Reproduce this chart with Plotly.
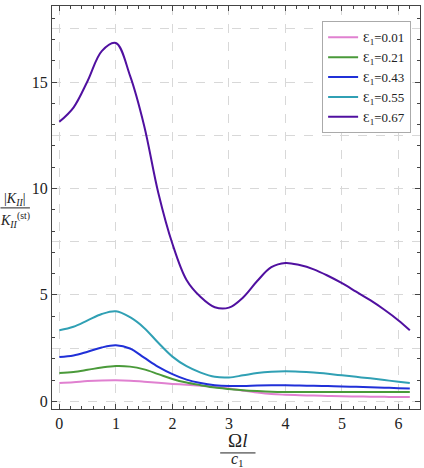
import plotly.graph_objects as go

x_vals = [0, 0.25, 0.5, 0.75, 1.0, 1.25, 1.5, 1.75, 2.0, 2.25, 2.5, 2.75, 3.0, 3.25, 3.5, 3.75, 4.0,
          4.25, 4.5, 4.75, 5.0, 5.25, 5.5, 5.75, 6.0, 6.2]

eps_001 = [0.86, 0.90, 0.95, 0.98, 0.99, 0.97, 0.92, 0.87, 0.82, 0.78, 0.73, 0.67, 0.60, 0.50, 0.41, 0.34, 0.31,
           0.29, 0.27, 0.255, 0.24, 0.23, 0.22, 0.21, 0.205, 0.20]
eps_021 = [1.33, 1.38, 1.48, 1.59, 1.66, 1.63, 1.50, 1.28, 1.05, 0.88, 0.76, 0.65, 0.58, 0.52, 0.48, 0.45, 0.44,
           0.44, 0.44, 0.44, 0.44, 0.44, 0.44, 0.44, 0.44, 0.44]
eps_043 = [2.08, 2.15, 2.33, 2.53, 2.63, 2.48, 2.05, 1.62, 1.28, 1.02, 0.86, 0.76, 0.72, 0.72, 0.74, 0.75, 0.75,
           0.74, 0.73, 0.715, 0.70, 0.68, 0.66, 0.64, 0.62, 0.60]
eps_055 = [3.34, 3.50, 3.80, 4.10, 4.23, 3.95, 3.45, 2.75, 2.10, 1.65, 1.35, 1.15, 1.12, 1.22, 1.33, 1.39, 1.41,
           1.39, 1.35, 1.29, 1.22, 1.15, 1.08, 1.00, 0.92, 0.86]
eps_067 = [13.13, 13.80, 15.05, 16.45, 16.83, 15.30, 12.95, 9.80, 7.40, 5.70, 4.90, 4.42, 4.40, 4.88, 5.65, 6.30, 6.50,
           6.40, 6.20, 5.90, 5.55, 5.15, 4.75, 4.30, 3.80, 3.34]

labels = ["Ɛ<sub>1</sub>=0.01", "Ɛ<sub>1</sub>=0.21", "Ɛ<sub>1</sub>=0.43", "Ɛ<sub>1</sub>=0.55", "Ɛ<sub>1</sub>=0.67"]
series = [eps_001, eps_021, eps_043, eps_055, eps_067]
colors = ["#e080d0", "#4a9a3a", "#2030d8", "#30a0b4", "#5010a0"]

FONT = "Liberation Serif"

fig = go.Figure()
for lab, ys, c in zip(labels, series, colors):
    fig.add_trace(go.Scatter(x=x_vals, y=ys, mode="lines", name=lab,
                             line=dict(color=c, width=2, shape="spline", smoothing=1.0)))

# invisible trace for minor-tick overlay axis
fig.add_trace(go.Scatter(x=[0], y=[0], yaxis="y2", xaxis="x2", mode="markers",
                         marker=dict(opacity=0), showlegend=False, hoverinfo="skip"))

xr = [-0.13, 6.38]
yr = [-0.36, 18.57]

fig.update_layout(
    width=424, height=468,
    margin=dict(l=52, r=4, t=6, b=59),
    paper_bgcolor="white", plot_bgcolor="white",
    font=dict(family=FONT, color="#222", size=16),
    showlegend=True,
    legend=dict(x=0.734, y=0.962, xanchor="left", yanchor="top",
                bordercolor="#aaa", borderwidth=1, bgcolor="white",
                font=dict(family=FONT, size=13, color="#222"),
                itemwidth=30, tracegroupgap=0),
    xaxis=dict(range=xr, tickvals=[0, 1, 2, 3, 4, 5, 6], ticks="inside", ticklen=5,
               tickcolor="#444", showline=True, linecolor="#444", linewidth=1, mirror="ticks",
               showgrid=True, gridcolor="#d8d8d8", griddash="dash", gridwidth=1,
               zeroline=False, tickfont=dict(family=FONT, size=16),
               minor=dict(dtick=0.2, tick0=0, ticks="inside", ticklen=3, tickcolor="#444", showgrid=False)),
    yaxis=dict(range=yr, tickvals=[0, 5, 10, 15], ticks="inside", ticklen=5,
               tickcolor="#444", showline=True, linecolor="#444", linewidth=1, mirror="ticks",
               showgrid=True, gridcolor="#d8d8d8", griddash="dash", gridwidth=1,
               zeroline=False, tickfont=dict(family=FONT, size=16),
               minor=dict(tickvals=[2.5, 7.5, 12.5, 17.5], ticks="", showgrid=True,
                          gridcolor="#d8d8d8", griddash="dash", gridwidth=1)),
    xaxis2=dict(range=xr, overlaying="x", showticklabels=False, ticks="", showgrid=False,
                zeroline=False, showline=False),
    yaxis2=dict(range=yr, overlaying="y", dtick=1, tick0=0, ticks="inside", ticklen=3,
                tickcolor="#444", showticklabels=False, showgrid=False, zeroline=False,
                showline=True, linecolor="#444", mirror="ticks"),
)

# axis titles as stacked fractions
fig.add_annotation(xref="paper", yref="paper", x=-0.100, y=0.520, text="|<i>K</i><sub><i>II</i></sub>|",
                   showarrow=False, font=dict(family=FONT, size=14, color="#222"), xanchor="center", yanchor="middle")
fig.add_annotation(xref="paper", yref="paper", x=-0.100, y=0.468, text="<i>K</i><sub><i>II</i></sub><sup>(st)</sup>",
                   showarrow=False, font=dict(family=FONT, size=14, color="#222"), xanchor="center", yanchor="middle")
fig.add_shape(type="line", xref="paper", yref="paper", x0=-0.140, x1=-0.060, y0=0.499, y1=0.499,
              line=dict(color="#222", width=1))

fig.add_annotation(xref="paper", yref="paper", x=0.503, y=-0.078, text="Ω<i>l</i>",
                   showarrow=False, font=dict(family=FONT, size=19, color="#222"), xanchor="center", yanchor="middle")
fig.add_annotation(xref="paper", yref="paper", x=0.503, y=-0.125, text="<i>c</i><sub>1</sub>",
                   showarrow=False, font=dict(family=FONT, size=16, color="#222"), xanchor="center", yanchor="middle")
fig.add_shape(type="line", xref="paper", yref="paper", x0=0.457, x1=0.553, y0=-0.109, y1=-0.109,
              line=dict(color="#222", width=1))

fig.write_html("out.html")
